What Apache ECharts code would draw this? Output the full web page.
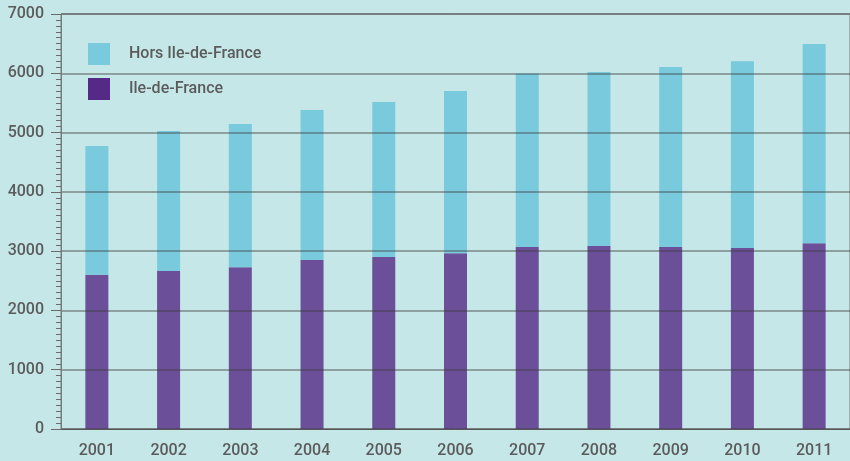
<!doctype html>
<html lang="fr">
<head>
    <meta charset="UTF-8">
    <title>Ile-de-France / Hors Ile-de-France</title>
    <script src="https://cdn.jsdelivr.net/npm/echarts@6/dist/echarts.min.js"></script>
    <style>
        html, body { margin: 0; padding: 0; background: #c5e7e8; }
        #chart { width: 850px; height: 461px; }
    </style>
</head>
<body>
    <div id="chart"></div>
    <script>
        // --- données ---
        const annees = ['2001', '2002', '2003', '2004', '2005', '2006', '2007', '2008', '2009', '2010', '2011'];
        const ileDeFrance = [2600, 2665, 2730, 2850, 2900, 2965, 3070, 3085, 3070, 3055, 3135];
        const horsIleDeFrance = [2175, 2360, 2415, 2530, 2615, 2735, 2925, 2935, 3035, 3150, 3360];

        const texte = '#5b5b5b';
        const police = 'Roboto';

        const chart = echarts.init(document.getElementById('chart'));
        chart.setOption({
            backgroundColor: '#c5e7e8',
            animation: false,
            grid: {
                left: 61, right: 0, top: 14, bottom: 32,
                show: true, borderColor: '#7a7a7a', borderWidth: 1,
                backgroundColor: 'transparent'
            },
            legend: {
                orient: 'vertical',
                left: 88, top: 43, padding: 0,
                icon: 'rect',
                itemWidth: 22, itemHeight: 22, itemGap: 13,
                textStyle: { color: texte, fontSize: 16, fontFamily: police, fontWeight: 500, padding: [2, 0, 0, 14] },
                data: [
                    { name: 'Hors Ile-de-France', itemStyle: { color: '#7acadd' } },
                    { name: 'Ile-de-France', itemStyle: { color: '#552a86' } }
                ]
            },
            xAxis: {
                type: 'category',
                data: annees,
                axisLine: { lineStyle: { color: '#6a6a6a', width: 1 } },
                axisTick: { show: false },
                axisLabel: { color: texte, fontSize: 16, fontFamily: police, fontWeight: 500, margin: 14 }
            },
            yAxis: {
                type: 'value',
                min: 0, max: 7000, interval: 1000,
                z: 10,
                axisLine: { show: true, lineStyle: { color: '#7a7a7a', width: 1 } },
                axisTick: { show: true, length: 10, lineStyle: { color: '#6a6a6a' } },
                minorTick: { show: true, splitNumber: 10, length: 5, lineStyle: { color: '#6a6a6a' } },
                axisLabel: {
                    color: texte, fontSize: 16, fontFamily: police, fontWeight: 500, margin: 17,
                    formatter: v => String(v)
                },
                splitLine: { lineStyle: { color: 'rgba(60,60,60,0.55)', width: 1.5 } }
            },
            series: [
                {
                    name: 'Ile-de-France',
                    type: 'bar',
                    stack: 'total',
                    barWidth: 23,
                    data: ileDeFrance,
                    itemStyle: { color: '#6b4f98' }
                },
                {
                    name: 'Hors Ile-de-France',
                    type: 'bar',
                    stack: 'total',
                    barWidth: 23,
                    data: horsIleDeFrance,
                    itemStyle: { color: '#7acadd' }
                }
            ]
        });
    </script>
</body>
</html>
